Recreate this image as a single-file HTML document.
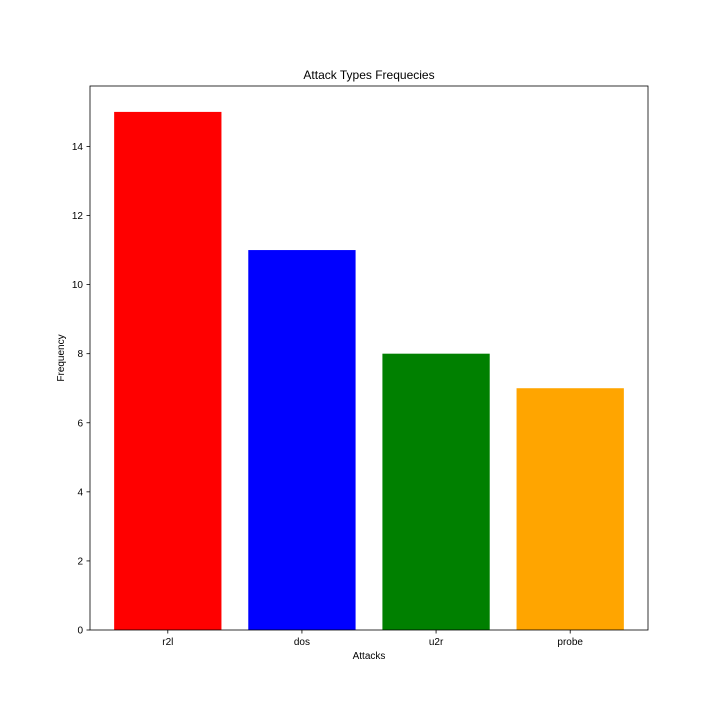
<!DOCTYPE html>
<html><head><meta charset="utf-8"><style>
body{margin:0;background:#fff;}
svg{font-family:"Liberation Sans","DejaVu Sans",sans-serif;}
</style></head><body>
<svg id="chart" width="720" height="720">
<rect width="720" height="720" fill="#fff"/>
<g id="bars"></g>
<g id="axes"></g>
</svg>
<script>
const categories=["r2l","dos","u2r","probe"];
const values=[15,11,8,7];
const colors=["red","blue","green","orange"];
const yTicks=[0,2,4,6,8,10,12,14];
const L=90,R=648,T=86,B=630;
const yMax=15.75, xMin=-0.58, xMax=3.58;
const y=v=>B-(v/yMax)*(B-T);
const x=v=>L+(v-xMin)/(xMax-xMin)*(R-L);
const NS="http://www.w3.org/2000/svg";
const svg=document.getElementById('chart');
function mk(tag,attrs,parent,text){const e=document.createElementNS(NS,tag);for(const k in attrs)e.setAttribute(k,attrs[k]);if(text!==undefined)e.textContent=text;(parent||svg).appendChild(e);return e;}
const gb=document.getElementById('bars'),ga=document.getElementById('axes');
categories.forEach((c,i)=>{
  const r=mk('rect',{x:x(i-0.4),y:y(values[i]),width:x(i+0.4)-x(i-0.4),height:y(0)-y(values[i]),fill:colors[i]},gb);
  
  
  mk('line',{x1:x(i),x2:x(i),y1:B,y2:B+3.5,stroke:'#000','stroke-width':0.8},ga);
  const t=mk('text',{x:x(i),y:B+15,'font-size':10,'text-anchor':'middle'},ga,c);
  
  
});
yTicks.forEach(v=>{
  mk('line',{x1:L-3.5,x2:L,y1:y(v),y2:y(v),stroke:'#000','stroke-width':0.8},ga);
  const t=mk('text',{x:L-7,y:y(v)+3.5,'font-size':10,'text-anchor':'end'},ga,v);
  
  
});
const f=mk('rect',{x:L,y:T,width:R-L,height:B-T,fill:'none',stroke:'#000','stroke-width':0.8},ga);


const tt=mk('text',{x:(L+R)/2,y:T-7,'font-size':12,'text-anchor':'middle'},ga,'Attack Types Frequecies');


const xt=mk('text',{x:(L+R)/2,y:B+29,'font-size':10,'text-anchor':'middle'},ga,'Attacks');


const yt=mk('text',{x:64,y:(T+B)/2,'font-size':10,'text-anchor':'middle',transform:'rotate(-90 64 '+((T+B)/2)+')'},ga,'Frequency');


</script>
</body></html>
